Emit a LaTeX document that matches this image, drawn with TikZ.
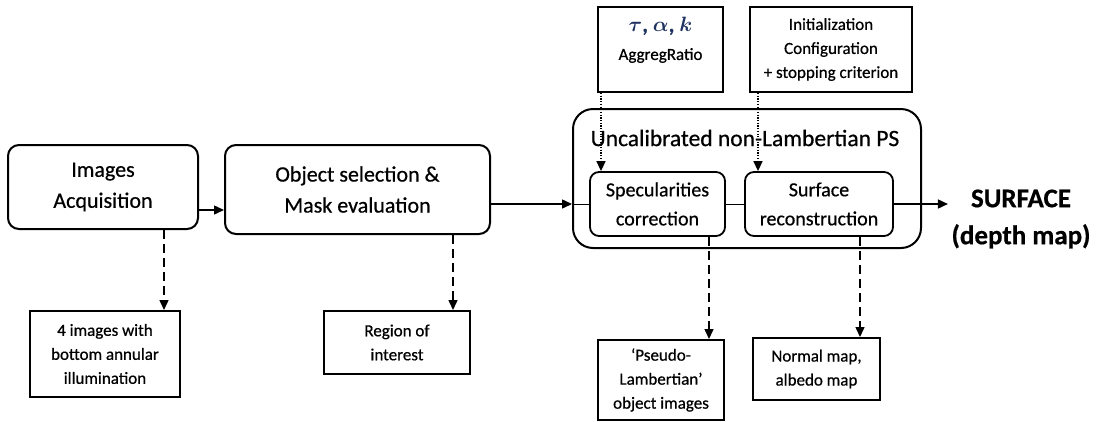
\documentclass[tikz,border=0pt]{standalone}
\usepackage{fontspec}
\usepackage{bm}
\setmainfont{Carlito}[FakeBold=0.6]
\usetikzlibrary{arrows.meta}

\definecolor{parblue}{RGB}{31,50,96}

\tikzset{
    block/.style={draw, line width=2pt, rounded corners=11pt, align=center,
        font=\fontsize{22}{31}\selectfont},
    stage/.style={draw, line width=1.8pt, rounded corners=9pt, align=center,
        font=\fontsize{20}{29}\selectfont},
    group/.style={draw, line width=2pt, rounded corners=20pt},
    param/.style={draw, line width=2pt, align=center,
        font=\fontsize{17}{24}\selectfont},
    flow/.style={line width=1.5pt, -{Triangle[length=10pt,width=9pt]}},
    link/.style={line width=1pt},
    data/.style={line width=1.5pt, dash pattern=on 9pt off 5pt, -{Triangle[length=10pt,width=9pt]}},
    tune/.style={line width=1.5pt, dash pattern=on 1.2pt off 1.5pt, -{Triangle[length=10pt,width=9pt]}},
}

\begin{document}
\begin{tikzpicture}[x=1pt, y=-1pt]
    \useasboundingbox (0,0) rectangle (1096,421);

    % Main chain
    \node[block, minimum width=190pt, minimum height=84pt] (acq) at (103,187) {Images\\Acquisition};
    \node[block, minimum width=265pt, minimum height=89pt] (sel) at (357.5,189.5) {Object selection \&\\Mask evaluation};

    % Photometric stereo group
    \node[group, minimum width=348pt, minimum height=139pt] (ps) at (747,178.5) {};
    \node[font=\fontsize{23.5}{30}\selectfont] (pstitle) at (745,138) {Uncalibrated non-Lambertian PS};
    \node[stage, minimum width=135pt, minimum height=64pt] (spec) at (657.5,204) {Specularities\\correction};
    \node[stage, minimum width=148pt, minimum height=64pt] (surf) at (819,204) {Surface\\reconstruction};

    % Parameters
    \node[param, minimum width=125pt, minimum height=85pt] (par) at (660.5,49.5) {};
    \node[font=\fontsize{17}{28}\selectfont, align=center, anchor=north] (partext) at ([yshift=-8pt]par.north)
        {\fontsize{22}{28}\selectfont\textcolor{parblue}{$\bm{\tau}$\textbf{,} $\bm{\alpha}$\textbf{,} $\bm{k}$}\\AggregRatio};
    \node[param, minimum width=162pt, minimum height=85pt] (init) at (831,49.5) {Initialization\\Configuration\\+ stopping criterion};

    % Result
    \node[font=\bfseries\fontsize{27}{37}\selectfont, align=center] (depth) at (1021,219) {SURFACE\\(depth map)};

    % Intermediate outputs
    \node[param, minimum width=150pt, minimum height=86pt] (imgs) at (105,354) {4 images with\\bottom annular\\illumination};
    \node[param, minimum width=146pt, minimum height=63pt] (roi) at (397,342.5) {Region of\\interest};
    \node[param, minimum width=126pt, minimum height=80pt] (pseudo) at (661,380) {`Pseudo-\\Lambertian'\\object images};
    \node[param, minimum width=127pt, minimum height=62pt] (nmap) at (816.5,369) {Normal map,\\albedo map};

    % Connectors
    \draw[flow] ([yshift=-23pt]acq.east) -- ([yshift=-20.5pt]sel.west);
    \draw[flow] (sel.east |- spec.west) -- (ps.west |- spec.west);
    \draw[link] (ps.west |- spec.west) -- (spec.west);
    \draw[link] (spec.east) -- (surf.west);
    \draw[flow] (surf.east) -- (depth.west |- surf.east);

    \draw[tune] (par.south -| 601,0) -- (spec.north -| 601,0);
    \draw[tune] (init.south -| 758,0) -- (surf.north -| 758,0);

    \draw[data] (acq.south -| imgs.north east) ++(-17pt,0) coordinate (d1) -- (d1 |- imgs.north);
    \draw[data] (sel.south -| roi.north east) ++(-18pt,0) coordinate (d2) -- (d2 |- roi.north);
    \draw[data] (spec.south -| pseudo.north east) ++(-16pt,0) coordinate (d3) -- (d3 |- pseudo.north);
    \draw[data] (surf.south -| nmap.north east) ++(-21pt,0) coordinate (d4) -- (d4 |- nmap.north);
\end{tikzpicture}
\end{document}
